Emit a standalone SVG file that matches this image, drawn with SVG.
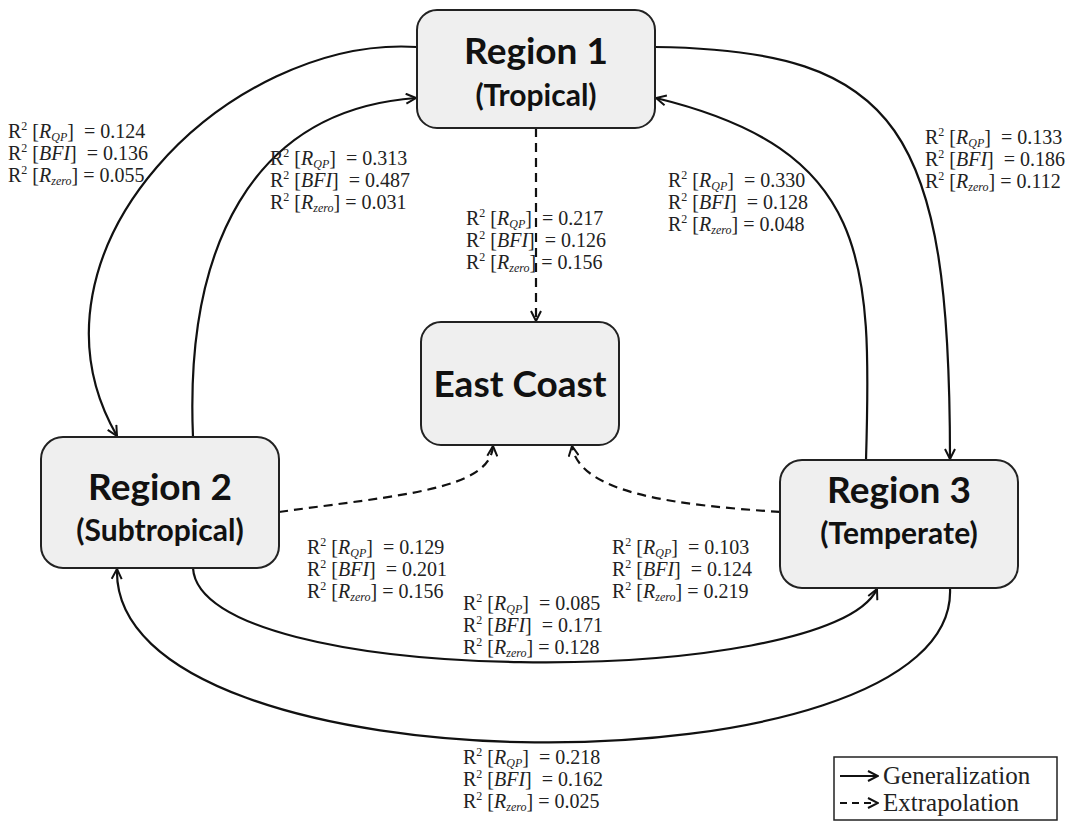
<svg xmlns="http://www.w3.org/2000/svg" width="1070" height="823" viewBox="0 0 1070 823">
<defs>
<marker id="arr" viewBox="0 0 12 12" refX="11" refY="6" markerWidth="12" markerHeight="12" markerUnits="userSpaceOnUse" orient="auto">
<path d="M1,1 L11,6 L1,11" fill="none" stroke="#111" stroke-width="2"/>
</marker>
<style>
.box{fill:#efefef;stroke:#222;stroke-width:2}
.t1{font-family:Lato,"Open Sans",sans-serif;font-weight:bold;font-size:37px;fill:#111;text-anchor:middle}
.t2{font-family:Lato,"Open Sans",sans-serif;font-weight:bold;font-size:30px;fill:#111;text-anchor:middle}
.c{fill:none;stroke:#111;stroke-width:2.2}
.d{stroke-dasharray:9 6}
.lb{font-family:"Liberation Serif",serif;font-size:20px;fill:#222;white-space:pre}
.i{font-style:italic}
.s{font-size:12px}
.lg{font-family:"Liberation Serif",serif;font-size:25px;fill:#222}
</style>
</defs>
<rect width="1070" height="823" fill="#fff"/>
<g id="connectors">
<path class="c" d="M417,47 C230,35 10,250 117,436" marker-end="url(#arr)"/>
<path class="c" d="M193,437 C185,250 250,110 416,98" marker-end="url(#arr)"/>
<path class="c" d="M655,47 C900,50 950,130 950,459" marker-end="url(#arr)"/>
<path class="c" d="M866,460 C872,260 870,150 656,98" marker-end="url(#arr)"/>
<path class="c d" d="M536,128 L536,321" marker-end="url(#arr)"/>
<path class="c d" d="M279,512 C400,495 490,490 493,446" marker-end="url(#arr)"/>
<path class="c d" d="M780,512 C680,505 580,495 572,446" marker-end="url(#arr)"/>
<path class="c" d="M193,568 C200,690 830,690 877,589" marker-end="url(#arr)"/>
<path class="c" d="M950,588 C960,797 110,797 117,569" marker-end="url(#arr)"/>
</g>
<g id="region1">
<rect class="box" x="417" y="10" width="238" height="118" rx="20"/>
<text class="t1" x="536" y="64">Region 1</text>
<text class="t2" x="536" y="106">(Tropical)</text>
</g>
<g id="eastcoast">
<rect class="box" x="421" y="322" width="198" height="123" rx="20"/>
<text class="t1" x="520" y="397">East Coast</text>
</g>
<g id="region2">
<rect class="box" x="41" y="437" width="238" height="131" rx="22"/>
<text class="t1" x="160" y="500">Region 2</text>
<text class="t2" x="160" y="541">(Subtropical)</text>
</g>
<g id="region3">
<rect class="box" x="780" y="460" width="238" height="128" rx="22"/>
<text class="t1" x="899" y="503">Region 3</text>
<text class="t2" x="899" y="544">(Temperate)</text>
</g>
<g id="labels">
<text class="lb" x="8" y="138">R<tspan class="s" dy="-8">2</tspan><tspan dy="8"> [</tspan><tspan class="i">R</tspan><tspan class="i s" dy="3">QP</tspan><tspan dy="-3">]  = 0.124</tspan></text>
<text class="lb" x="8" y="160">R<tspan class="s" dy="-8">2</tspan><tspan dy="8"> [</tspan><tspan class="i">BFI</tspan>]  = 0.136</text>
<text class="lb" x="8" y="182">R<tspan class="s" dy="-8">2</tspan><tspan dy="8"> [</tspan><tspan class="i">R</tspan><tspan class="i s" dy="3">zero</tspan><tspan dy="-3">] = 0.055</tspan></text>

<text class="lb" x="270" y="165">R<tspan class="s" dy="-8">2</tspan><tspan dy="8"> [</tspan><tspan class="i">R</tspan><tspan class="i s" dy="3">QP</tspan><tspan dy="-3">]  = 0.313</tspan></text>
<text class="lb" x="270" y="187">R<tspan class="s" dy="-8">2</tspan><tspan dy="8"> [</tspan><tspan class="i">BFI</tspan>]  = 0.487</text>
<text class="lb" x="270" y="209">R<tspan class="s" dy="-8">2</tspan><tspan dy="8"> [</tspan><tspan class="i">R</tspan><tspan class="i s" dy="3">zero</tspan><tspan dy="-3">] = 0.031</tspan></text>

<text class="lb" x="466" y="225">R<tspan class="s" dy="-8">2</tspan><tspan dy="8"> [</tspan><tspan class="i">R</tspan><tspan class="i s" dy="3">QP</tspan><tspan dy="-3">]  = 0.217</tspan></text>
<text class="lb" x="466" y="247">R<tspan class="s" dy="-8">2</tspan><tspan dy="8"> [</tspan><tspan class="i">BFI</tspan>]  = 0.126</text>
<text class="lb" x="466" y="269">R<tspan class="s" dy="-8">2</tspan><tspan dy="8"> [</tspan><tspan class="i">R</tspan><tspan class="i s" dy="3">zero</tspan><tspan dy="-3">] = 0.156</tspan></text>

<text class="lb" x="668" y="187">R<tspan class="s" dy="-8">2</tspan><tspan dy="8"> [</tspan><tspan class="i">R</tspan><tspan class="i s" dy="3">QP</tspan><tspan dy="-3">]  = 0.330</tspan></text>
<text class="lb" x="668" y="209">R<tspan class="s" dy="-8">2</tspan><tspan dy="8"> [</tspan><tspan class="i">BFI</tspan>]  = 0.128</text>
<text class="lb" x="668" y="231">R<tspan class="s" dy="-8">2</tspan><tspan dy="8"> [</tspan><tspan class="i">R</tspan><tspan class="i s" dy="3">zero</tspan><tspan dy="-3">] = 0.048</tspan></text>

<text class="lb" x="925" y="144">R<tspan class="s" dy="-8">2</tspan><tspan dy="8"> [</tspan><tspan class="i">R</tspan><tspan class="i s" dy="3">QP</tspan><tspan dy="-3">]  = 0.133</tspan></text>
<text class="lb" x="925" y="166">R<tspan class="s" dy="-8">2</tspan><tspan dy="8"> [</tspan><tspan class="i">BFI</tspan>]  = 0.186</text>
<text class="lb" x="925" y="188">R<tspan class="s" dy="-8">2</tspan><tspan dy="8"> [</tspan><tspan class="i">R</tspan><tspan class="i s" dy="3">zero</tspan><tspan dy="-3">] = 0.112</tspan></text>

<text class="lb" x="307" y="554">R<tspan class="s" dy="-8">2</tspan><tspan dy="8"> [</tspan><tspan class="i">R</tspan><tspan class="i s" dy="3">QP</tspan><tspan dy="-3">]  = 0.129</tspan></text>
<text class="lb" x="307" y="576">R<tspan class="s" dy="-8">2</tspan><tspan dy="8"> [</tspan><tspan class="i">BFI</tspan>]  = 0.201</text>
<text class="lb" x="307" y="598">R<tspan class="s" dy="-8">2</tspan><tspan dy="8"> [</tspan><tspan class="i">R</tspan><tspan class="i s" dy="3">zero</tspan><tspan dy="-3">] = 0.156</tspan></text>

<text class="lb" x="612" y="554">R<tspan class="s" dy="-8">2</tspan><tspan dy="8"> [</tspan><tspan class="i">R</tspan><tspan class="i s" dy="3">QP</tspan><tspan dy="-3">]  = 0.103</tspan></text>
<text class="lb" x="612" y="576">R<tspan class="s" dy="-8">2</tspan><tspan dy="8"> [</tspan><tspan class="i">BFI</tspan>]  = 0.124</text>
<text class="lb" x="612" y="598">R<tspan class="s" dy="-8">2</tspan><tspan dy="8"> [</tspan><tspan class="i">R</tspan><tspan class="i s" dy="3">zero</tspan><tspan dy="-3">] = 0.219</tspan></text>

<text class="lb" x="463" y="610">R<tspan class="s" dy="-8">2</tspan><tspan dy="8"> [</tspan><tspan class="i">R</tspan><tspan class="i s" dy="3">QP</tspan><tspan dy="-3">]  = 0.085</tspan></text>
<text class="lb" x="463" y="632">R<tspan class="s" dy="-8">2</tspan><tspan dy="8"> [</tspan><tspan class="i">BFI</tspan>]  = 0.171</text>
<text class="lb" x="463" y="654">R<tspan class="s" dy="-8">2</tspan><tspan dy="8"> [</tspan><tspan class="i">R</tspan><tspan class="i s" dy="3">zero</tspan><tspan dy="-3">] = 0.128</tspan></text>

<text class="lb" x="463" y="764">R<tspan class="s" dy="-8">2</tspan><tspan dy="8"> [</tspan><tspan class="i">R</tspan><tspan class="i s" dy="3">QP</tspan><tspan dy="-3">]  = 0.218</tspan></text>
<text class="lb" x="463" y="786">R<tspan class="s" dy="-8">2</tspan><tspan dy="8"> [</tspan><tspan class="i">BFI</tspan>]  = 0.162</text>
<text class="lb" x="463" y="808">R<tspan class="s" dy="-8">2</tspan><tspan dy="8"> [</tspan><tspan class="i">R</tspan><tspan class="i s" dy="3">zero</tspan><tspan dy="-3">] = 0.025</tspan></text>
</g>
<g id="legend">
<rect x="834" y="757" width="223" height="63" fill="#fff" stroke="#222" stroke-width="1.5"/>
<path class="c" d="M840,776 L878,776" marker-end="url(#arr)"/>
<path class="c" d="M840,803 L878,803" stroke-dasharray="7 5" marker-end="url(#arr)"/>
<text class="lg" x="883" y="784">Generalization</text>
<text class="lg" x="883" y="811">Extrapolation</text>
</g>
</svg>
